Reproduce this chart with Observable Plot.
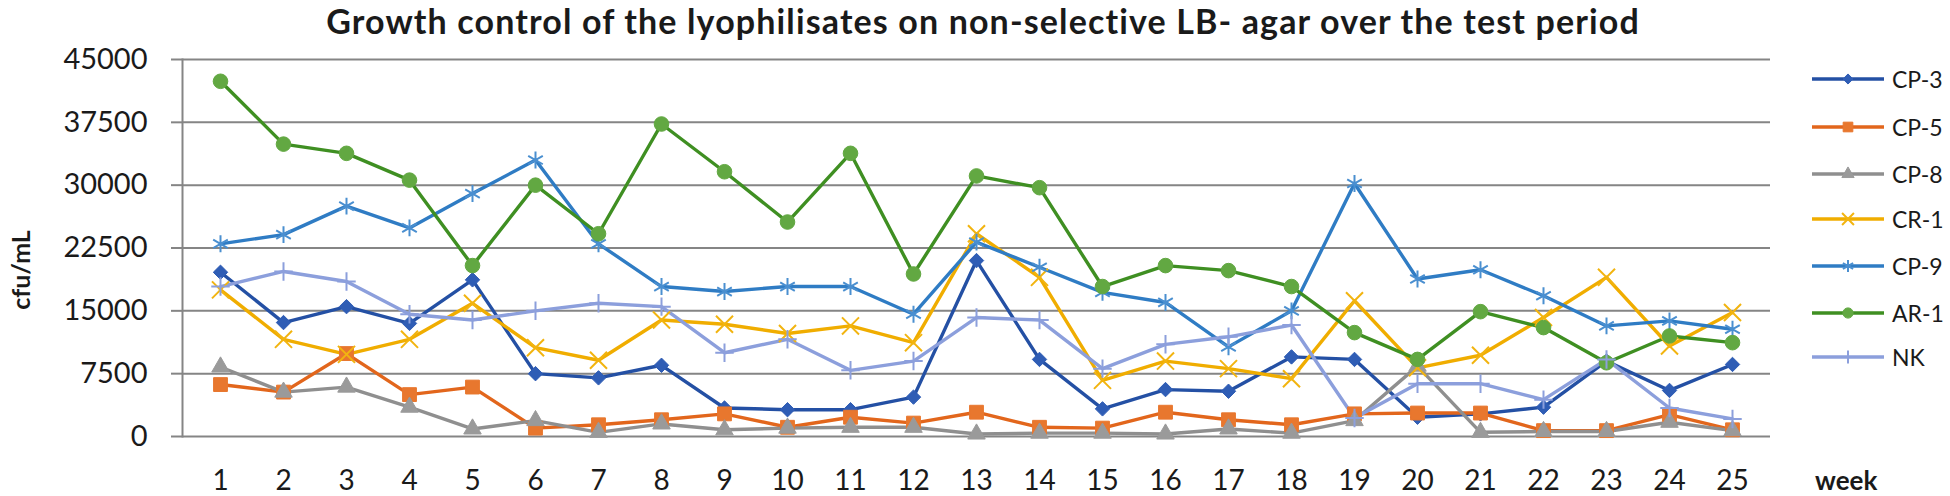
<!DOCTYPE html>
<html>
<head>
<meta charset="utf-8">
<script src="https://cdn.jsdelivr.net/npm/d3@7"></script>
<script src="https://cdn.jsdelivr.net/npm/@observablehq/plot@0.6"></script>
<style>
  html, body { margin: 0; padding: 0; background: #fff; }
  #wrap { position: relative; width: 1950px; height: 496px; overflow: hidden; background: #fff;
          font-family: Lato, "Open Sans", sans-serif; color: #1a1a1a; }
  #chart { position: absolute; left: 0; top: 0; }
  #title { position: absolute; left: 983px; top: 3px; transform: translateX(-50%); line-height: 36px;
           font-weight: 700; font-size: 34px; white-space: nowrap; }
  #ylab { position: absolute; left: 20px; top: 270px; transform: translate(-50%, -50%) rotate(-90deg);
          font-weight: 700; font-size: 25px; white-space: nowrap; }
  #xlab { position: absolute; left: 1815px; top: 480px; transform: translateY(-50%);
          font-weight: 700; font-size: 26px; white-space: nowrap; }
  .leg { position: absolute; left: 1811px; height: 30px; display: flex; align-items: center;
         transform: translateY(-50%); font-size: 23px; white-space: nowrap; }
  .leg svg { margin-right: 7px; }
</style>
</head>
<body>
<div id="wrap">
  <div id="chart"></div>
  <div id="title">Growth control of the lyophilisates on non-selective LB- agar over the test period</div>
  <div id="ylab">cfu/mL</div>
  <div id="xlab">week</div>
</div>
<script>
const weeks = [1,2,3,4,5,6,7,8,9,10,11,12,13,14,15,16,17,18,19,20,21,22,23,24,25];
const yTicks = [0, 7500, 15000, 22500, 30000, 37500, 45000];
const seriesNames = ["CP-3", "CP-5", "CP-8", "CR-1", "CP-9", "AR-1", "NK"];

const cp3 = [19600, 13600, 15500, 13500, 18700, 7500, 7000, 8500, 3400, 3200, 3200, 4700, 21000, 9200, 3300, 5600, 5400, 9500, 9200, 2300, 2700, 3500, 9000, 5500, 8600];
const cp5 = [6200, 5300, 9900, 5000, 5900, 1000, 1400, 2000, 2700, 1100, 2300, 1600, 2900, 1100, 1000, 2900, 2000, 1400, 2700, 2800, 2800, 700, 700, 2600, 800];
const cp8 = [8300, 5300, 5900, 3500, 900, 1900, 500, 1500, 800, 1000, 1100, 1100, 300, 400, 400, 300, 900, 400, 1900, 8400, 500, 600, 600, 1700, 700];
const cr1 = [17500, 11600, 9800, 11600, 15900, 10600, 9100, 13900, 13400, 12300, 13200, 11200, 24200, 19000, 6700, 9000, 8100, 6900, 16200, 8200, 9700, 14200, 19000, 10800, 14800];
const cp9 = [23000, 24100, 27500, 24900, 29000, 33000, 23000, 17900, 17300, 17900, 17900, 14600, 23200, 20200, 17200, 16000, 10700, 15000, 30200, 18800, 19900, 16800, 13200, 13800, 12800];
const ar1 = [42400, 34900, 33800, 30600, 20400, 30000, 24200, 37300, 31600, 25600, 33800, 19400, 31100, 29700, 17900, 20400, 19800, 17900, 12400, 9200, 14900, 13000, 8800, 12000, 11200];
const nk  = [17900, 19700, 18500, 14600, 13900, 15000, 15900, 15500, 10000, 11600, 7900, 9000, 14200, 13900, 8100, 11000, 11900, 13300, 2200, 6300, 6300, 4400, 9200, 3400, 2100];

const seriesValues = [cp3, cp5, cp8, cr1, cp9, ar1, nk];

// style per series (line colour, marker colour, symbol, radius, filled)
const styles = [
  {line: "#2450a4", mark: "#2f5db5", symbol: "diamond2", r: 6.5, filled: true,  sw: 1},
  {line: "#e2661c", mark: "#e8772e", symbol: "square",   r: 7.8, filled: true,  sw: 1},
  {line: "#8f8f8f", mark: "#9a9a9a", symbol: "triangle", r: 6.5, filled: true,  sw: 1},
  {line: "#f0ad00", mark: "#f2b410", symbol: "times",    r: 7.8, filled: false, sw: 2},
  {line: "#2f7cc4", mark: "#4a8fd0", symbol: "asterisk", r: 8,   filled: false, sw: 2},
  {line: "#3f8f22", mark: "#62a842", symbol: "circle",   r: 7.3, filled: true,  sw: 1},
  {line: "#8c9fdc", mark: "#8c9fdc", symbol: "plus",     r: 6,   filled: false, sw: 2}
];

const rows = [];
seriesNames.forEach((name, i) => {
  seriesValues[i].forEach((v, j) => rows.push({series: name, week: weeks[j], value: v}));
});

const gridColor = "#858585";
const marks = [
  Plot.ruleY(yTicks, {y: d => d, stroke: gridColor, strokeWidth: 2}),
  Plot.frame({anchor: "left", stroke: gridColor, strokeWidth: 2}),
  Plot.axisY(yTicks, {tickSize: 11, tickPadding: 24, stroke: gridColor, strokeWidth: 2, label: null,
    tickFormat: d3.format("d"), fontSize: 29, fill: "#1a1a1a"}),
  Plot.axisX(weeks, {tickSize: 0, tickPadding: 34, fontSize: 28, fill: "#1a1a1a", label: null})
];
seriesNames.forEach((name, i) => {
  const s = styles[i];
  const data = rows.filter(d => d.series === name);
  marks.push(Plot.line(data, {x: "week", y: "value", stroke: s.line, strokeWidth: 3.4, curve: "linear"}));
});
seriesNames.forEach((name, i) => {
  const s = styles[i];
  const data = rows.filter(d => d.series === name);
  marks.push(Plot.dot(data, {x: "week", y: "value", symbol: s.symbol, r: s.r,
    fill: s.filled ? s.mark : "none", stroke: s.mark, strokeWidth: s.sw}));
});

const chart = Plot.plot({
  width: 1950,
  height: 496,
  marginLeft: 182,
  marginRight: 180,
  marginTop: 59,
  marginBottom: 60,
  style: {fontFamily: "Lato, 'Open Sans', sans-serif", background: "transparent", color: "#1a1a1a"},
  x: {type: "point", domain: weeks, padding: 0.5, axis: null, label: null},
  y: {domain: [0, 45000], axis: null, label: null},
  marks
});
document.getElementById("chart").appendChild(chart);

// fit the title to the reference width
const title = document.getElementById("title");
const tw = title.getBoundingClientRect().width;
const n = title.textContent.length;
title.style.letterSpacing = ((1313 - tw) / (n - 1)).toFixed(2) + "px";

// legend
const wrap = document.getElementById("wrap");
const legendY = [79, 126.5, 174, 219, 266, 313, 357];
seriesNames.forEach((name, i) => {
  const s = styles[i];
  const row = document.createElement("div");
  row.className = "leg";
  row.style.top = legendY[i] + "px";
  const svg = d3.create("svg").attr("width", 74).attr("height", 30);
  svg.append("line").attr("x1", 1).attr("x2", 73).attr("y1", 15).attr("y2", 15)
    .attr("stroke", s.line).attr("stroke-width", 3.4);
  const sym = {diamond2: d3.symbolDiamond2, square: d3.symbolSquare, triangle: d3.symbolTriangle,
    times: d3.symbolTimes, asterisk: d3.symbolAsterisk, circle: d3.symbolCircle, plus: d3.symbolPlus}[s.symbol];
  svg.append("path").attr("transform", "translate(37,15)")
    .attr("d", d3.symbol(sym, Math.PI * (s.r * 0.7) ** 2)())
    .attr("fill", s.filled ? s.mark : "none").attr("stroke", s.mark).attr("stroke-width", s.sw);
  row.appendChild(svg.node());
  const t = document.createElement("span");
  t.textContent = name;
  row.appendChild(t);
  wrap.appendChild(row);
});
</script>
</body>
</html>
